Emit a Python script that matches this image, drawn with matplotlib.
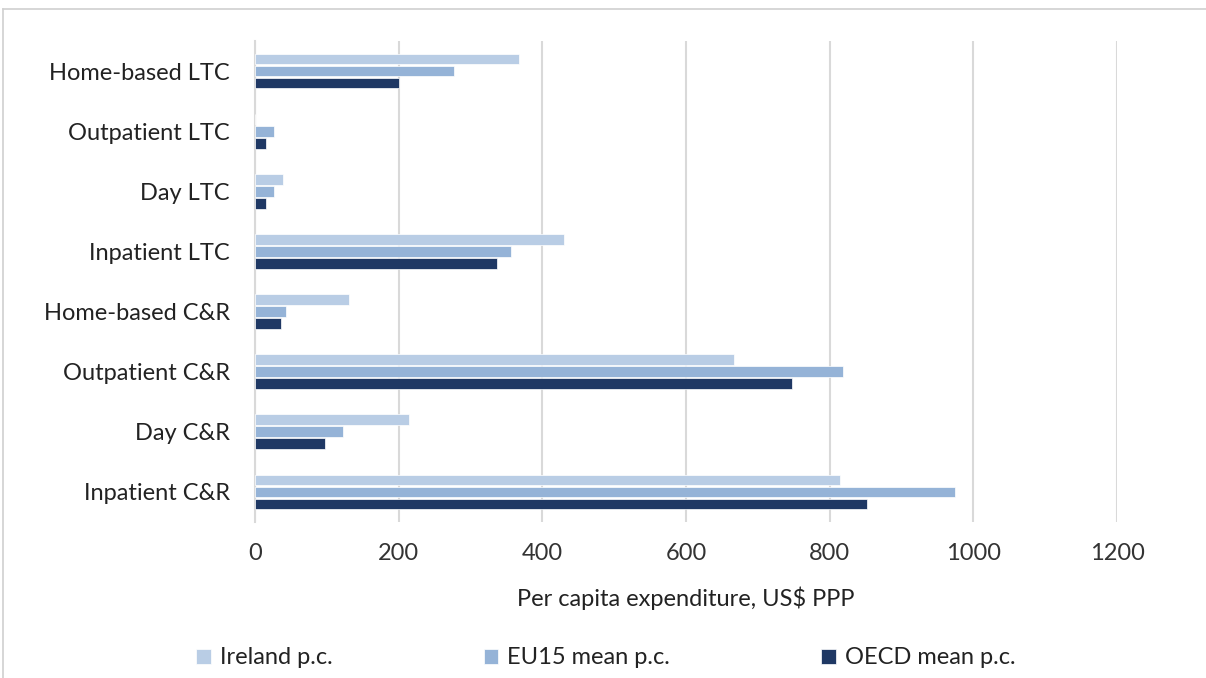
import matplotlib.pyplot as plt
import numpy as np
from matplotlib.lines import Line2D

plt.rcParams['font.family'] = ['Lato', 'DejaVu Sans']

# categories, bottom to top (as the chart draws them)
categories = ['Inpatient C&R', 'Day C&R', 'Outpatient C&R', 'Home-based C&R',
              'Inpatient LTC', 'Day LTC', 'Outpatient LTC', 'Home-based LTC']

ireland = [814, 215, 667, 131, 430, 39, 0, 368]
eu15 = [975, 122, 819, 43, 357, 27, 27, 277]
oecd = [852, 98, 747, 36, 337, 16, 16, 200]

series_names = ['Ireland p.c.', 'EU15 mean p.c.', 'OECD mean p.c.']
colors = ['#b9cde5', '#95b3d7', '#1f3864']
xticks = [0, 200, 400, 600, 800, 1000, 1200]

fs = 17

fig = plt.figure(figsize=(12.06, 6.78), dpi=100)
ax = fig.add_axes([255 / 1206, 1 - 522 / 678, (1117 - 255) / 1206, (522 - 41) / 678])

y = np.arange(len(categories))
h = 0.2
# Ireland on top of each group, OECD at the bottom
for i, (vals, name, c) in enumerate(zip([ireland, eu15, oecd], series_names, colors)):
    ax.barh(y + (1 - i) * h, vals, height=h * 0.9, color=c, label=name,
            edgecolor='white', linewidth=0.5, zorder=3)

ax.set_xlim(0, 1200)
ax.set_ylim(-0.5, len(categories) - 0.5)
ax.set_xticks(xticks)
ax.set_xticklabels([str(t) for t in xticks], fontsize=fs, color='#333333')
ax.set_yticks(y)
ax.set_yticklabels(categories, fontsize=fs, color='#222222')
ax.tick_params(axis='both', length=0)
ax.tick_params(axis='x', pad=15)
ax.tick_params(axis='y', pad=18)
ax.grid(axis='x', color='#d9d9d9', linewidth=1.5, zorder=0)
for s in ['top', 'right', 'bottom']:
    ax.spines[s].set_visible(False)
ax.spines['left'].set_color('#d9d9d9')
ax.spines['left'].set_linewidth(1.5)
ax.set_xlabel('Per capita expenditure, US$ PPP', fontsize=fs, color='#222222', labelpad=16)

fig.legend(loc='center', bbox_to_anchor=(606 / 1206, 1 - 658 / 678), ncol=3,
           frameon=False, fontsize=fs, handlelength=0.6, handleheight=0.6,
           handletextpad=0.4, columnspacing=6.4, labelcolor='#222222')

# outer chart frame (partly cut off in the original)
fig.add_artist(Line2D([3 / 1206, 3 / 1206], [0, 1 - 9 / 678], color='#d0d0d0', linewidth=1.2))
fig.add_artist(Line2D([3 / 1206, 1], [1 - 9 / 678, 1 - 9 / 678], color='#d0d0d0', linewidth=1.2))

fig.savefig('out.png', dpi=100)
